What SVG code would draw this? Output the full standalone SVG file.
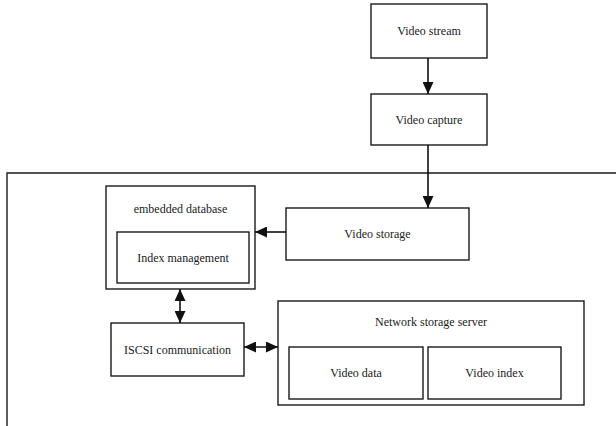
<svg xmlns="http://www.w3.org/2000/svg" width="616" height="426" viewBox="0 0 616 426">
  <style>
    .box { fill: #ffffff; stroke: #1a1a1a; stroke-width: 1.4; }
    .frame { fill: none; stroke: #1a1a1a; stroke-width: 1.4; }
    .lbl { font-family: "Liberation Serif", "Times New Roman", serif; font-size: 12px; fill: #1a1a1a; text-anchor: middle; dominant-baseline: central; }
    .wire { stroke: #111111; stroke-width: 1.6; fill: none; }
  </style>
  <defs>
    <marker id="head" viewBox="0 0 12 11" refX="12" refY="5.5" markerWidth="12" markerHeight="11" markerUnits="userSpaceOnUse" orient="auto-start-reverse">
      <path d="M0,0 L12,5.5 L0,11 Z" fill="#111111"/>
    </marker>
  </defs>

  <rect width="616" height="426" fill="#ffffff"/>

  <!-- system frame, open to the right and bottom -->
  <path class="frame" d="M620,173 H7 V430"/>

  <g id="video-stream">
    <rect class="box" x="371" y="4" width="116" height="54"/>
    <text class="lbl" x="429" y="31">Video stream</text>
  </g>

  <g id="video-capture">
    <rect class="box" x="371" y="94" width="116" height="51"/>
    <text class="lbl" x="429" y="119.5">Video capture</text>
  </g>

  <g id="video-storage">
    <rect class="box" x="286" y="208" width="183" height="52"/>
    <text class="lbl" x="377.5" y="234">Video storage</text>
  </g>

  <g id="embedded-database">
    <rect class="box" x="106" y="186" width="149" height="103"/>
    <text class="lbl" x="180.5" y="209">embedded database</text>
    <g id="index-management">
      <rect class="box" x="117" y="232" width="132" height="51"/>
      <text class="lbl" x="183" y="257.5">Index management</text>
    </g>
  </g>

  <g id="iscsi-communication">
    <rect class="box" x="111" y="323" width="133" height="53"/>
    <text class="lbl" x="177.5" y="349.5">ISCSI communication</text>
  </g>

  <g id="network-storage-server">
    <rect class="box" x="278" y="301" width="306" height="104"/>
    <text class="lbl" x="431" y="322">Network storage server</text>
    <g id="video-data">
      <rect class="box" x="289" y="347" width="134" height="52"/>
      <text class="lbl" x="356" y="373">Video data</text>
    </g>
    <g id="video-index">
      <rect class="box" x="428" y="347" width="133" height="52"/>
      <text class="lbl" x="494.5" y="373">Video index</text>
    </g>
  </g>

  <g id="connectors">
    <line class="wire" x1="428" y1="58" x2="428" y2="94" marker-end="url(#head)"/>
    <line class="wire" x1="428" y1="145" x2="428" y2="208" marker-end="url(#head)"/>
    <line class="wire" x1="286" y1="232" x2="255" y2="232" marker-end="url(#head)"/>
    <line class="wire" x1="180" y1="289" x2="180" y2="323" marker-start="url(#head)" marker-end="url(#head)"/>
    <line class="wire" x1="244" y1="347" x2="278" y2="347" marker-start="url(#head)" marker-end="url(#head)"/>
  </g>
</svg>
